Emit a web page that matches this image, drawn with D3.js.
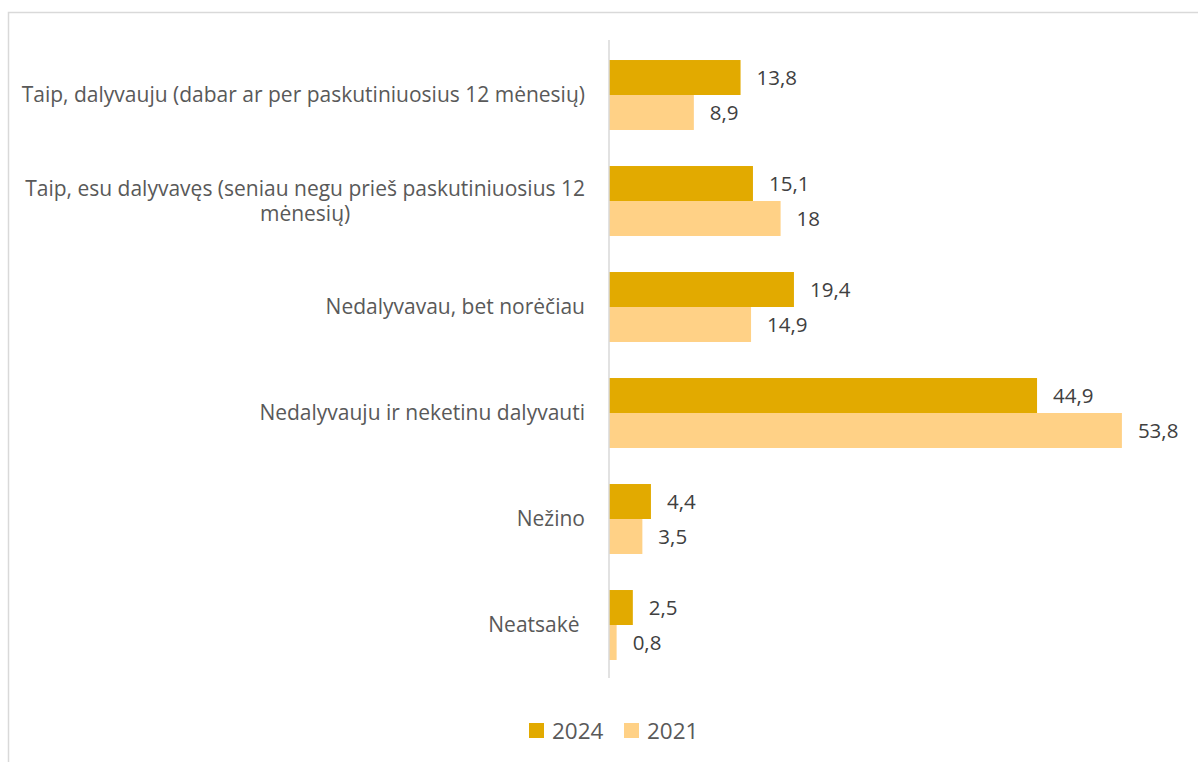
<!DOCTYPE html>
<html>
<head>
<meta charset="utf-8">
<script src="https://cdn.jsdelivr.net/npm/d3@7"></script>
<style>
  body { margin: 0; background: #fff; }
  text { font-family: "Open Sans", "Noto Sans", sans-serif; }
</style>
</head>
<body>
<svg id="svg" width="1198" height="762"></svg>
<script>
const categories = [
  'Taip, dalyvauju (dabar ar per paskutiniuosius 12 mėnesių)',
  'Taip, esu dalyvavęs (seniau negu prieš paskutiniuosius 12|mėnesių)',
  'Nedalyvavau, bet norėčiau',
  'Nedalyvauju ir neketinu dalyvauti',
  'Nežino',
  'Neatsakė '
];
const values2024 = [13.8, 15.1, 19.4, 44.9, 4.4, 2.5];
const values2021 = [8.9, 18, 14.9, 53.8, 3.5, 0.8];
const seriesNames = ['2024', '2021'];
const colors = ['#E2AA00', '#FFD186'];

const svg = d3.select('#svg');

// chart frame
svg.append('rect').
attr('x', 8.5).
attr('y', 12.5).
attr('width', 1200).
attr('height', 800).
attr('fill', 'none').
attr('stroke', '#d9d9d9').
attr('stroke-width', 1.5);

const x = d3.scaleLinear().domain([0, 60]).range([609, 1181]);
const y = d3.scaleBand().domain(categories).range([42, 678]).paddingInner(0.34).paddingOuter(0.17);
const ySub = d3.scaleBand().domain(seriesNames).range([0, y.bandwidth()]);

const rows = categories.map((c, i) => ({cat: c, vals: [values2024[i], values2021[i]]}));

const groups = svg.selectAll('g.cat').
data(rows).
enter().
append('g').
attr('class', 'cat').
attr('transform', d => `translate(0,${y(d.cat)})`);

groups.selectAll('rect').
data(d => d.vals.map((v, j) => ({v, s: seriesNames[j], c: colors[j]}))).
enter().
append('rect').
attr('x', x(0)).
attr('y', d => ySub(d.s)).
attr('width', d => x(d.v) - x(0)).
attr('height', ySub.bandwidth()).
attr('fill', d => d.c);

groups.selectAll('text.val').
data(d => d.vals.map((v, j) => ({v, s: seriesNames[j]}))).
enter().
append('text').
attr('class', 'val').
attr('x', d => x(d.v) + 16).
attr('y', d => ySub(d.s) + ySub.bandwidth() / 2).
attr('dy', '0.35em').
attr('font-size', 20.5).
attr('fill', '#404040').
text(d => String(d.v).replace('.', ','));

// category labels
groups.each(function (d) {
  const g = d3.select(this);
  const lines = d.cat.split('|');
  const cy = y.bandwidth() / 2;
  if (lines.length === 1) {
    g.append('text').
    attr('x', 585).
    attr('y', cy).
    attr('dy', '0.35em').
    attr('text-anchor', 'end').
    attr('font-size', 21).
    attr('fill', '#595959').
    attr('xml:space', 'preserve').
    text(lines[0]);
  } else {
    const t1 = g.append('text').
    attr('x', 585).
    attr('y', cy - 12.5).
    attr('dy', '0.35em').
    attr('text-anchor', 'end').
    attr('font-size', 21).
    attr('fill', '#595959').
    text(lines[0]);
    const w = t1.node().getComputedTextLength();
    g.append('text').
    attr('x', 585 - w / 2).
    attr('y', cy + 13).
    attr('dy', '0.35em').
    attr('text-anchor', 'middle').
    attr('font-size', 21).
    attr('fill', '#595959').
    text(lines[1]);
  }
});

// axis line
svg.append('line').
attr('x1', x(0)).
attr('x2', x(0)).
attr('y1', 40).
attr('y2', 678).
attr('stroke', '#d9d9d9').
attr('stroke-width', 1.5);

// legend
const legend = svg.append('g').attr('transform', 'translate(529,723)');
const legendX = d3.scaleOrdinal().domain(seriesNames).range([0, 95]);
const item = legend.selectAll('g').
data(seriesNames).
enter().
append('g').
attr('transform', d => `translate(${legendX(d)},0)`);
item.append('rect').
attr('width', 15).
attr('height', 15).
attr('fill', (d, i) => colors[i]);
item.append('text').
attr('x', 23).
attr('y', 8).
attr('dy', '0.35em').
attr('font-size', 22.5).
attr('fill', '#595959').
text(d => d);
</script>
</body>
</html>
